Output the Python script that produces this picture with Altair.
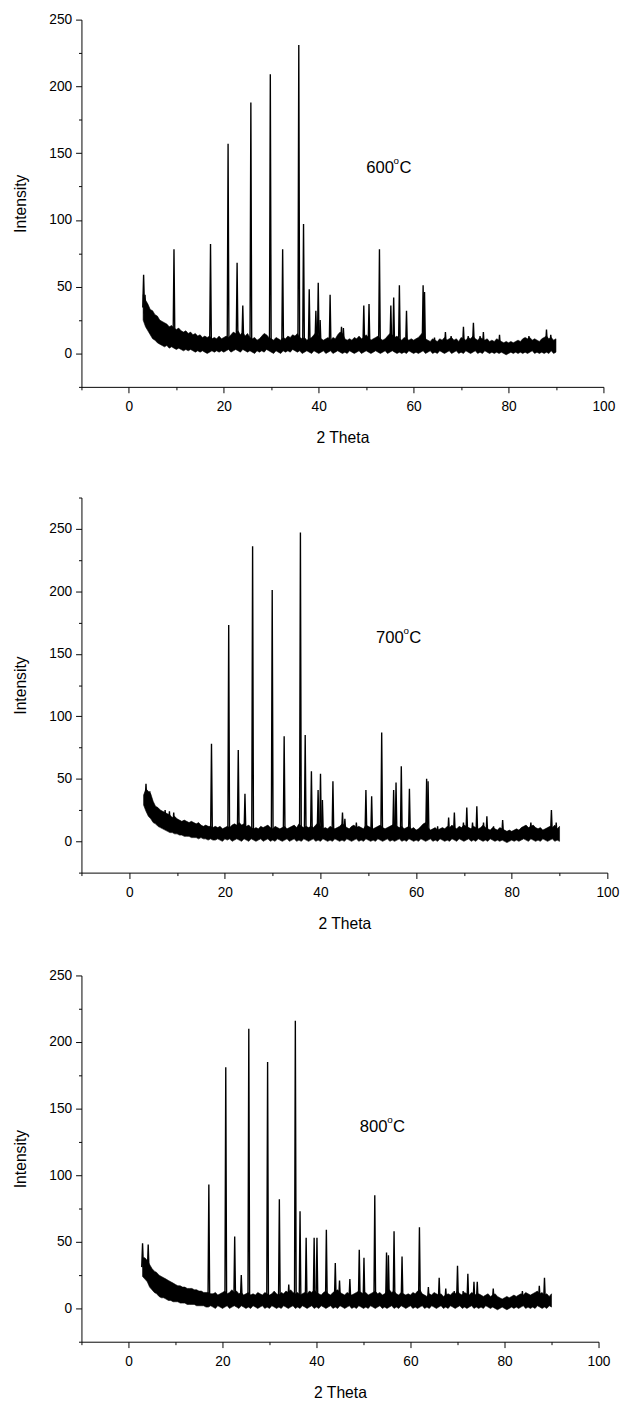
import altair as alt
import pandas as pd

# ---------------- data ----------------
X_START = 3.0   # first sample of the background band (2 theta)
X_STEP = 0.5    # band sampling step (2 theta)

# 600 C : upper / lower edge of the noisy background band
high_600 = [44, 40, 37, 33, 32, 29, 28, 25, 24, 23,
            22, 20, 21, 19, 18, 19, 17, 16, 17, 15,
            16, 14, 15, 13, 14, 12, 13, 12, 13, 11,
            12, 11, 13, 11, 12, 13, 12, 14, 16, 15,
            17, 14, 16, 13, 15, 12, 11, 12, 10, 11,
            13, 15, 14, 12, 11, 10, 12, 11, 10, 12,
            11, 13, 12, 14, 13, 15, 12, 11, 12, 10,
            11, 12, 14, 16, 13, 11, 10, 11, 12, 10,
            12, 11, 14, 16, 15, 11, 10, 11, 10, 12,
            11, 13, 11, 12, 14, 12, 10, 11, 12, 13,
            11, 10, 11, 13, 15, 14, 12, 13, 11, 10,
            12, 11, 10, 11, 10, 11, 12, 14, 16, 11,
            10, 9, 11, 10, 9, 11, 10, 12, 10, 11,
            12, 10, 11, 9, 12, 11, 10, 12, 11, 13,
            11, 10, 12, 11, 10, 11, 9, 10, 9, 11,
            10, 9, 8, 9, 8, 9, 8, 9, 10, 9,
            11, 12, 11, 12, 10, 11, 10, 9, 11, 12,
            13, 11, 12, 10, 11]
low_600 = [25, 20, 17, 14, 11, 10, 8, 7, 6, 5,
           6, 4, 5, 4, 3, 4, 3, 2, 3, 2,
           3, 2, 1, 2, 1, 2, 1, 0, 1, 2,
           1, 2, 1, 2, 1, 2, 3, 1, 2, 3,
           2, 1, 3, 2, 1, 2, 1, 0, 2, 1,
           2, 1, 3, 2, 1, 0, 2, 1, 0, 2,
           1, 2, 1, 3, 2, 1, 2, 0, 1, 2,
           1, 0, 2, 1, 0, 1, 2, 0, 1, 2,
           0, 1, 2, 1, 0, 1, 0, 2, 1, 0,
           1, 2, 0, 1, 2, 1, 0, 1, 2, 1,
           0, 1, 2, 0, 1, 2, 1, 0, 1, 0,
           1, 0, 2, 1, 0, 1, 0, 1, 2, 0,
           1, 2, 0, 1, 0, 2, 1, 0, 1, 2,
           0, 1, 2, 0, 1, 0, 2, 1, 0, 1,
           2, 0, 1, 0, 2, 1, 0, 1, 0, 1,
           0, 1, 0, -1, 0, 1, 0, 1, 0, 1,
           0, 1, 0, 1, 2, 0, 1, 0, 1, 0,
           1, 0, 2, 0, 1]
peak_pos_600 = [3.1, 3.4, 9.5, 17.2, 20.9, 22.8, 24.0, 25.7, 29.8, 32.4,
                35.8, 36.8, 38.0, 39.4, 39.9, 40.3, 42.4, 44.8, 45.2, 49.5,
                50.6, 52.8, 55.2, 55.8, 57.0, 58.5, 62.0, 62.3, 64.4, 66.7,
                67.9, 70.5, 71.5, 72.6, 74.0, 74.7, 78.1, 83.3, 84.3, 88.0, 88.9]
peak_top_600 = [59, 44, 78, 82, 157, 68, 36, 188, 209, 78,
                231, 97, 48, 32, 53, 25, 44, 20, 19, 36,
                37, 78, 36, 42, 51, 32, 51, 46, 12, 16,
                13, 20, 13, 23, 13, 16, 14, 11, 13, 18, 14]

# 700 C
high_700 = [37, 42, 40, 38, 32, 28, 27, 25, 24, 23,
            22, 21, 19, 20, 18, 17, 16, 17, 16, 15,
            16, 15, 14, 15, 13, 12, 13, 12, 12, 11,
            12, 11, 12, 10, 11, 12, 11, 13, 14, 13,
            15, 13, 14, 12, 13, 11, 10, 11, 10, 12,
            11, 12, 13, 11, 10, 12, 11, 10, 11, 12,
            10, 11, 12, 13, 11, 14, 12, 11, 12, 11,
            12, 11, 13, 15, 12, 10, 11, 10, 12, 11,
            10, 11, 12, 14, 13, 11, 10, 12, 13, 11,
            12, 11, 10, 13, 12, 11, 10, 11, 12, 13,
            11, 10, 11, 12, 13, 14, 12, 11, 12, 10,
            11, 12, 10, 11, 9, 10, 12, 14, 15, 11,
            9, 10, 11, 9, 10, 11, 10, 12, 11, 13,
            11, 10, 12, 11, 13, 12, 11, 10, 12, 11,
            10, 11, 13, 11, 10, 9, 11, 10, 9, 11,
            10, 9, 8, 9, 8, 9, 10, 9, 11, 12,
            13, 11, 12, 13, 11, 10, 11, 9, 10, 11,
            12, 11, 13, 10, 12]
low_700 = [29, 24, 20, 18, 15, 14, 12, 11, 10, 9,
           8, 7, 7, 6, 6, 5, 5, 4, 4, 4,
           3, 3, 3, 2, 3, 2, 2, 1, 2, 1,
           1, 2, 1, 0, 2, 1, 2, 0, 1, 2,
           1, 0, 2, 1, 0, 2, 1, 0, 1, 2,
           0, 1, 2, 0, 1, 0, 2, 1, 0, 1,
           2, 0, 1, 2, 0, 1, 0, 2, 1, 0,
           1, 2, 0, 1, 0, 2, 1, 0, 1, 0,
           2, 1, 0, 1, 0, 2, 1, 0, 1, 2,
           0, 1, 0, 2, 1, 0, 1, 0, 2, 1,
           0, 1, 2, 0, 1, 0, 1, 2, 0, 1,
           0, 2, 1, 0, 1, 0, 2, 1, 0, 1,
           2, 0, 1, 0, 2, 1, 0, 1, 0, 2,
           1, 0, 2, 1, 0, 1, 2, 0, 1, 0,
           2, 1, 0, 1, 0, 2, 1, 0, 1, 0,
           1, 0, -1, 0, 1, 0, 1, 0, 1, 2,
           1, 0, 2, 1, 0, 1, 0, 2, 1, 0,
           1, 2, 0, 1, 0]
peak_pos_700 = [3.5, 4.3, 7.5, 8.4, 9.3, 17.2, 20.8, 22.8, 24.2, 25.8,
                29.9, 32.4, 35.8, 36.8, 38.1, 39.5, 40.0, 40.4, 42.6, 44.6,
                45.1, 47.5, 49.5, 50.7, 52.8, 55.3, 55.8, 56.9, 58.6, 62.2,
                62.5, 64.5, 66.8, 68.0, 69.9, 70.6, 71.8, 72.7, 74.1, 74.8,
                76.2, 78.1, 84.0, 88.3, 89.3]
peak_top_700 = [46, 40, 25, 24, 23, 78, 173, 73, 38, 236,
                201, 84, 247, 85, 56, 41, 54, 33, 48, 23,
                18, 15, 41, 36, 87, 41, 47, 60, 42, 50,
                48, 12, 19, 23, 15, 27, 15, 28, 15, 20,
                12, 17, 15, 25, 15]

# 800 C
high_800 = [38, 38, 36, 33, 30, 28, 27, 25, 24, 23,
            22, 21, 20, 19, 18, 17, 17, 16, 16, 15,
            15, 15, 14, 14, 13, 13, 12, 12, 12, 11,
            11, 12, 10, 11, 12, 13, 11, 12, 14, 12,
            13, 11, 12, 10, 11, 12, 10, 11, 10, 12,
            11, 10, 12, 11, 10, 11, 13, 11, 10, 12,
            11, 13, 12, 14, 12, 11, 12, 10, 11, 12,
            11, 13, 12, 14, 12, 11, 10, 12, 13, 11,
            10, 12, 13, 14, 12, 11, 10, 12, 11, 10,
            11, 12, 13, 12, 11, 12, 10, 11, 12, 13,
            11, 12, 10, 11, 13, 14, 12, 13, 11, 10,
            12, 11, 10, 11, 10, 12, 11, 13, 14, 11,
            10, 9, 11, 10, 12, 11, 10, 11, 9, 10,
            11, 10, 12, 11, 13, 11, 10, 12, 11, 10,
            12, 11, 10, 11, 10, 9, 10, 11, 9, 10,
            11, 9, 8, 7, 8, 9, 8, 9, 10, 9,
            10, 11, 10, 12, 11, 10, 11, 12, 13, 11,
            12, 10, 11, 9, 11]
low_800 = [24, 22, 20, 16, 14, 12, 11, 9, 8, 8,
           7, 6, 6, 5, 5, 5, 4, 4, 4, 3,
           3, 3, 3, 2, 2, 2, 2, 1, 1, 2,
           1, 0, 2, 1, 0, 1, 2, 0, 1, 2,
           1, 0, 2, 1, 0, 1, 0, 2, 1, 0,
           1, 2, 0, 1, 0, 2, 1, 0, 1, 0,
           2, 1, 0, 1, 2, 0, 1, 0, 2, 1,
           0, 1, 2, 0, 1, 0, 2, 1, 0, 1,
           2, 0, 1, 0, 2, 1, 0, 1, 2, 0,
           1, 0, 2, 1, 0, 1, 0, 2, 1, 0,
           1, 2, 0, 1, 0, 1, 2, 0, 1, 0,
           2, 1, 0, 1, 2, 0, 1, 0, 1, 2,
           0, 1, 0, 2, 1, 0, 1, 2, 0, 1,
           0, 2, 1, 0, 1, 2, 0, 1, 0, 1,
           2, 0, 1, 0, 1, 0, 2, 1, 0, 1,
           0, -1, 0, 1, 0, -1, 0, 1, 0, 1,
           0, 1, 2, 0, 1, 0, 1, 0, 2, 1,
           0, 1, 0, 2, 1]
peak_pos_800 = [3.0, 4.2, 17.1, 20.7, 22.6, 24.0, 25.6, 29.6, 32.1, 34.1,
                35.5, 36.5, 37.8, 39.5, 40.1, 42.1, 44.0, 44.9, 47.1, 49.1,
                50.1, 52.4, 54.9, 55.3, 56.5, 58.2, 61.9, 63.8, 66.1, 67.5,
                69.3, 70.0, 71.2, 72.2, 73.5, 74.2, 77.6, 83.8, 87.4, 88.5]
peak_top_800 = [49, 48, 93, 181, 54, 25, 210, 185, 82, 18,
                216, 73, 53, 53, 53, 59, 34, 21, 22, 44,
                38, 85, 42, 40, 58, 39, 61, 16, 23, 15,
                13, 32, 13, 26, 20, 20, 15, 13, 17, 23]

labels = ["600", "700", "800"]
label_x = [50.0, 51.6, 49.2]
label_y = [135.5, 159.0, 132.5]
y_max = [250, 275, 250]
x_major = [0, 20, 40, 60, 80, 100]
x_minor = [-10, 10, 30, 50, 70, 90]

PEAK_HALF_WIDTH = 0.18
FONT = "Liberation Sans"


def band_frame(high, low):
    n = min(len(high), len(low))
    return pd.DataFrame({
        "theta": [X_START + X_STEP * i for i in range(n)],
        "I": high[:n],
        "lo": low[:n],
    })


def peak_frame(pos, top, high, low):
    rows = []
    n = min(len(high), len(low))
    for k, (p, t) in enumerate(zip(pos, top)):
        i = min(max(int(round((p - X_START) / X_STEP)), 0), n - 1)
        base = (high[i] + low[i]) / 2.0
        rows.append({"theta": p - PEAK_HALF_WIDTH, "I": base, "pid": k, "o": 0})
        rows.append({"theta": p, "I": t, "pid": k, "o": 1})
        rows.append({"theta": p + PEAK_HALF_WIDTH, "I": base, "pid": k, "o": 2})
    return pd.DataFrame(rows)


def panel(high, low, pos, top, label, lx, ly, ymax, w, h):
    xs = alt.Scale(domain=[-10, 100], nice=False, zero=False)
    ys = alt.Scale(domain=[-25, ymax], nice=False, zero=False)
    y_major = list(range(0, ymax + 1, 50))
    y_minor = list(range(-25, ymax + 1, 50))
    x_axis_major = alt.Axis(values=x_major, format="d", title="2 Theta", orient="bottom",
                            tickSize=6, labelPadding=7, titlePadding=17,
                            labelFlush=False, labelOverlap=False)
    y_axis_major = alt.Axis(values=y_major, format="d", title="Intensity", orient="left",
                            tickSize=6, labelPadding=4, titlePadding=21,
                            labelFlush=False, labelOverlap=False)
    x_axis_minor = alt.Axis(values=x_minor, labels=False, title=None, orient="bottom",
                            tickSize=3, domain=False)
    y_axis_minor = alt.Axis(values=y_minor, labels=False, title=None, orient="left",
                            tickSize=3, domain=False)
    bdf = band_frame(high, low)
    pdf = peak_frame(pos, top, high, low)
    band = alt.Chart(bdf).mark_area(color="black", stroke="black", strokeWidth=0.6).encode(
        x=alt.X("theta:Q", scale=xs, axis=x_axis_major),
        y=alt.Y("I:Q", scale=ys, axis=y_axis_major),
        y2="lo:Q",
    )
    peaks = alt.Chart(pdf).mark_line(color="black", strokeWidth=1.4).encode(
        x=alt.X("theta:Q", scale=xs, axis=x_axis_minor),
        y=alt.Y("I:Q", scale=ys, axis=y_axis_minor),
        detail="pid:N",
        order="o:Q",
    )
    adf = pd.DataFrame({"theta": [lx], "I": [ly]})
    base_txt = alt.Chart(adf)
    enc = dict(x=alt.X("theta:Q", scale=xs, axis=None), y=alt.Y("I:Q", scale=ys, axis=None))
    t1 = base_txt.mark_text(text=label, align="left", baseline="alphabetic", fontSize=17,
                            font=FONT, color="black").encode(**enc)
    t2 = base_txt.mark_text(text="o", align="left", baseline="alphabetic", fontSize=10,
                            font=FONT, color="black", dx=28, dy=-9).encode(**enc)
    t3 = base_txt.mark_text(text="C", align="left", baseline="alphabetic", fontSize=17,
                            font=FONT, color="black", dx=34).encode(**enc)
    return alt.layer(band, peaks, t1, t2, t3).resolve_axis(
        x="independent", y="independent"
    ).properties(width=w, height=h)


p1 = panel(high_600, low_600, peak_pos_600, peak_top_600, labels[0], label_x[0], label_y[0], y_max[0], 533, 375)
p2 = panel(high_700, low_700, peak_pos_700, peak_top_700, labels[1], label_x[1], label_y[1], y_max[1], 537, 383)
p3 = panel(high_800, low_800, peak_pos_800, peak_top_800, labels[2], label_x[2], label_y[2], y_max[2], 528, 374)

top_pair = alt.vconcat(p1, p2, spacing=52)
chart = alt.vconcat(top_pair, p3, spacing=38).properties(
    padding={"top": -10, "left": 4, "right": 5, "bottom": 2}
).configure_axis(
    domainColor="black", tickColor="black", labelColor="black", titleColor="black",
    labelFont=FONT, titleFont=FONT, labelFontSize=14, titleFontSize=16,
    titleFontWeight="normal", grid=False, domainWidth=1, tickWidth=1,
).configure_view(stroke=None)

chart.save("out.html", embed_options={"renderer": "svg", "actions": False})
